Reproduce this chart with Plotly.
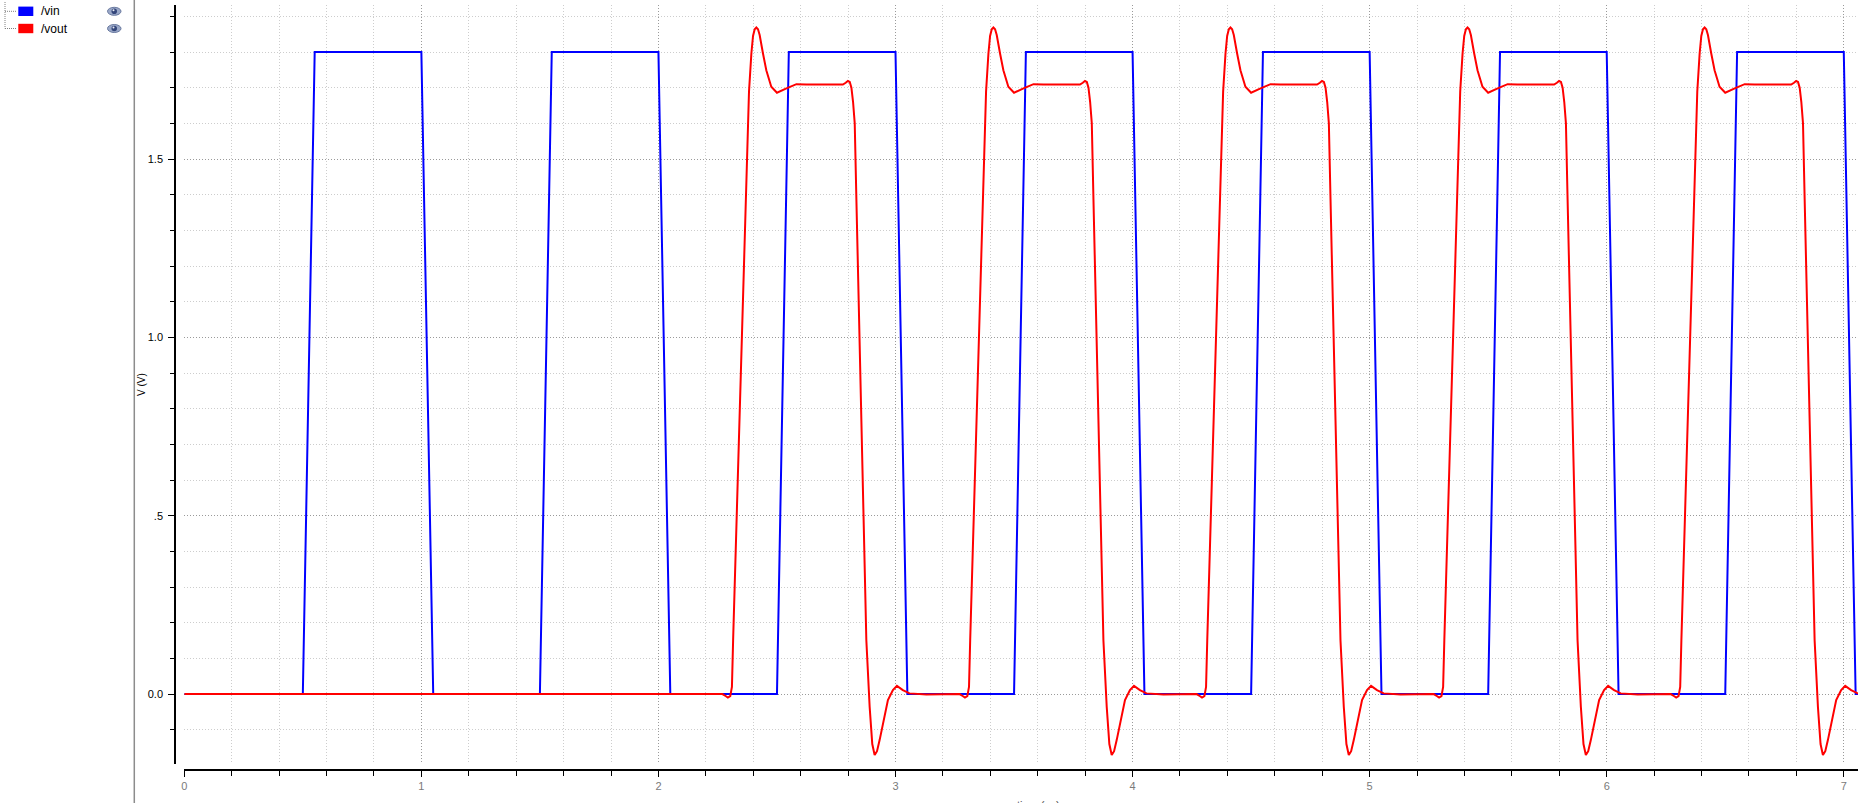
import plotly.graph_objects as go

# ---------------- data ----------------
# /vin : trapezoidal pulses
vin_rise_starts = [0.5, 1.5, 2.5, 3.5, 4.5, 5.5, 6.5]
vin_high = 1.8
vin_rise_time = 0.05
vin_high_end = 0.50      # offset (from rise start) where the fall begins
vin_fall_end = 0.55      # offset where the fall ends
t_end = 7.06

# /vout : one ringing cycle (offsets from cycle start, volts), repeated per cycle
vout_cycle_starts = [2.3, 3.3, 4.3, 5.3, 6.3]
vout_off = [-0.030, -0.015, -0.007, 0.003, 0.010, 0.015, 0.035, 0.055, 0.067,
            0.082, 0.092, 0.099, 0.106, 0.113, 0.120, 0.127, 0.141, 0.155, 0.176, 0.200,
            0.240, 0.282, 0.324, 0.478, 0.490, 0.499, 0.507, 0.514, 0.521, 0.528, 0.535,
            0.556, 0.577, 0.591, 0.602, 0.612, 0.622, 0.633, 0.647, 0.668, 0.689,
            0.706, 0.731, 0.759, 0.830, 0.970]
vout_val = [0.000, -0.006, -0.010, -0.006, 0.020, 0.150, 0.600, 1.080, 1.387,
            1.689, 1.796, 1.845, 1.864, 1.869, 1.864, 1.848, 1.796, 1.749, 1.703, 1.686,
            1.698, 1.710, 1.709, 1.709, 1.714, 1.719, 1.716, 1.700, 1.660, 1.600, 1.387,
            0.770, 0.151, -0.036, -0.140, -0.171, -0.160, -0.129, -0.082, -0.017, 0.011,
            0.023, 0.011, 0.002, -0.001, 0.000]

x_tickvals = [0, 1, 2, 3, 4, 5, 6, 7]
x_ticktext = ["0", "1", "2", "3", "4", "5", "6", "7"]
y_tickvals = [0.0, 0.5, 1.0, 1.5]
y_ticktext = ["0.0", ".5", "1.0", "1.5"]
legend_names = ["/vin", "/vout"]
legend_colors = ["#0000ff", "#ff0000"]

# ---------------- build series ----------------
vin_t, vin_v = [0.0], [0.0]
for s in vin_rise_starts:
    vin_t += [s, s + vin_rise_time, s + vin_high_end, s + vin_fall_end]
    vin_v += [0.0, vin_high, vin_high, 0.0]
vin_t.append(t_end)
vin_v.append(0.0)

vout_t, vout_v = [0.0], [0.0]
for c in vout_cycle_starts:
    for o, v in zip(vout_off, vout_val):
        vout_t.append(c + o)
        vout_v.append(v)

# ---------------- layout geometry ----------------
W, H = 1859, 803
ML, MR, MT, MB = 175, 1, 5, 33
PW = W - ML - MR
PH = H - MT - MB


def px(x):
    return (x - ML) / PW


def py(y):
    return (H - MB - y) / PH


FONT = "Liberation Sans, Arial, sans-serif"
GRID_DASH = "1px,2px"

fig = go.Figure()
fig.add_trace(go.Scatter(x=vin_t, y=vin_v, mode="lines", name=legend_names[0],
                         line=dict(color=legend_colors[0], width=2), showlegend=False))
fig.add_trace(go.Scatter(x=vout_t, y=vout_v, mode="lines", name=legend_names[1],
                         line=dict(color=legend_colors[1], width=2), showlegend=False))

fig.update_layout(
    template="none",
    width=W, height=H,
    margin=dict(l=ML, r=MR, t=MT, b=MB, pad=0),
    paper_bgcolor="white", plot_bgcolor="white",
    font=dict(family=FONT, size=10, color="black"),
    showlegend=False,
    xaxis=dict(
        domain=[px(184.3), 1.0], range=[0, t_end], anchor="free", position=0,
        automargin=False, zeroline=False,
        showline=True, linecolor="black", linewidth=1.5,
        tickmode="array", tickvals=x_tickvals, ticktext=x_ticktext,
        ticks="outside", ticklen=6, tickwidth=1, tickcolor="black",
        tickfont=dict(family=FONT, size=11, color="#7a7a7a"),
        showgrid=True, gridcolor="#9a9a9a", gridwidth=1, griddash=GRID_DASH,
        minor=dict(dtick=0.2, tick0=0, ticks="outside", ticklen=5, tickwidth=1,
                   tickcolor="black", showgrid=True, gridcolor="#cdcdcd",
                   gridwidth=1, griddash=GRID_DASH),
    ),
    yaxis=dict(
        domain=[py(764), 1.0], range=[-0.196, 1.932], anchor="free", position=0,
        automargin=False, zeroline=False,
        showline=True, linecolor="black", linewidth=1.5,
        tickmode="array", tickvals=y_tickvals, ticktext=y_ticktext,
        ticks="outside", ticklen=6, tickwidth=1, tickcolor="black",
        tickfont=dict(family=FONT, size=11, color="black"),
        ticklabelstandoff=3,
        showgrid=True, gridcolor="#9a9a9a", gridwidth=1, griddash=GRID_DASH,
        minor=dict(dtick=0.1, tick0=0, ticks="outside", ticklen=4, tickwidth=1,
                   tickcolor="black", showgrid=True, gridcolor="#cdcdcd",
                   gridwidth=1, griddash=GRID_DASH),
    ),
)

shapes = []
annotations = []

# separator between legend panel and plot
shapes.append(dict(type="line", xref="paper", yref="paper",
                   x0=px(134.3), x1=px(134.3), y0=py(0), y1=py(H),
                   line=dict(color="#8c8c8c", width=1.5)))

# legend tree lines
tree = dict(color="#808080", width=1, dash="1px,1px")
shapes.append(dict(type="line", xref="paper", yref="paper",
                   x0=px(5), x1=px(5), y0=py(2), y1=py(28.5), line=tree))
for yy in (11.3, 28.5):
    shapes.append(dict(type="line", xref="paper", yref="paper",
                       x0=px(5), x1=px(16), y0=py(yy), y1=py(yy), line=tree))

# legend swatches, labels and eye icons
for i, (name, col) in enumerate(zip(legend_names, legend_colors)):
    yc = 11.3 + 17.2 * i
    shapes.append(dict(type="rect", xref="paper", yref="paper",
                       x0=px(18.3), x1=px(33.3), y0=py(yc - 4.7), y1=py(yc + 4.7),
                       fillcolor=col, line=dict(width=0)))
    annotations.append(dict(xref="paper", yref="paper", x=px(38.5), y=py(yc),
                            text=name, showarrow=False, xanchor="left", yanchor="middle",
                            font=dict(family=FONT, size=12, color="black")))
    # eye icon
    shapes.append(dict(type="circle", xref="paper", yref="paper",
                       x0=px(107.5), x1=px(121), y0=py(yc - 4), y1=py(yc + 4),
                       fillcolor="#9aa8c8", line=dict(color="#6a7aa0", width=1)))
    shapes.append(dict(type="circle", xref="paper", yref="paper",
                       x0=px(111.5), x1=px(117), y0=py(yc - 2.8), y1=py(yc + 2.8),
                       fillcolor="#34467a", line=dict(width=0)))
    shapes.append(dict(type="circle", xref="paper", yref="paper",
                       x0=px(112.5), x1=px(114.5), y0=py(yc - 2), y1=py(yc),
                       fillcolor="#e8ecf5", line=dict(width=0)))

# axis titles
annotations.append(dict(xref="paper", yref="paper", x=px(141), y=py(385),
                        text="V (V)", showarrow=False, textangle=-90,
                        xanchor="center", yanchor="middle",
                        font=dict(family=FONT, size=10, color="black")))
annotations.append(dict(xref="paper", yref="paper", x=px(1038), y=py(797),
                        text="time (ns)", showarrow=False,
                        xanchor="center", yanchor="top",
                        font=dict(family=FONT, size=11, color="#555555")))

fig.update_layout(shapes=shapes, annotations=annotations)

fig.write_html("out.html",
               config={"displayModeBar": False},
               post_script="document.body.style.margin='0';document.body.style.overflow='hidden';")
